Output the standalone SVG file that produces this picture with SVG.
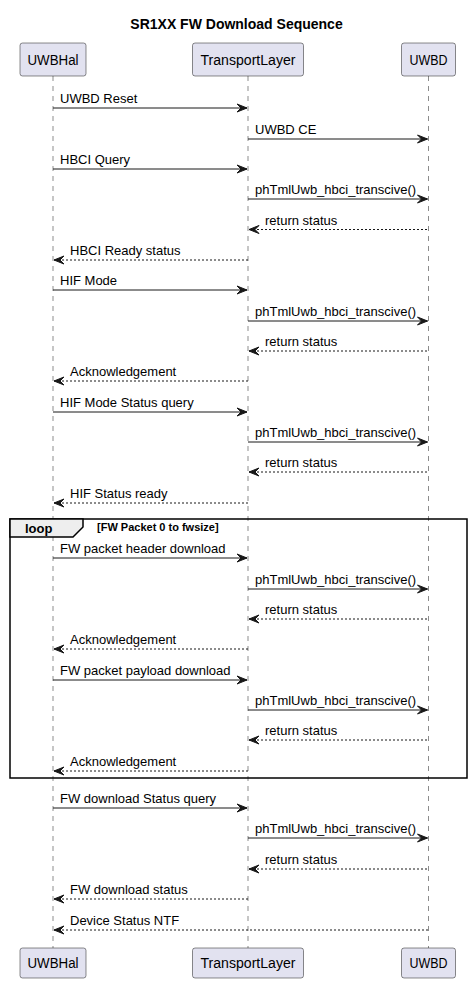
<svg xmlns="http://www.w3.org/2000/svg" width="471" height="983" viewBox="0 0 471 983">
<style>
.p{fill:#E2E2F0;stroke:#181818;stroke-width:0.5}
.pt{font-family:"Liberation Sans",Arial,sans-serif;font-size:14px;fill:#000;text-anchor:middle}
.ll{stroke:#181818;stroke-width:0.5;stroke-dasharray:5,5;fill:none}
.m{stroke:#181818;stroke-width:1;fill:none}
.d{stroke:#181818;stroke-width:1;stroke-dasharray:2,2;fill:none}
.ah{fill:#181818;stroke:#181818;stroke-width:1}
.t{font-family:"Liberation Sans",Arial,sans-serif;font-size:13px;fill:#000}
.title{font-family:"Liberation Sans",Arial,sans-serif;font-size:14px;font-weight:bold;fill:#000;text-anchor:middle}
</style>
<rect width="471" height="983" fill="#fff"/>
<text class="title" x="236.5" y="29">SR1XX FW Download Sequence</text>
<g id="lifelines">
<line class="ll" x1="53" y1="76" x2="53" y2="948"/>
<line class="ll" x1="248" y1="76" x2="248" y2="948"/>
<line class="ll" x1="428.5" y1="76" x2="428.5" y2="948"/>
</g>
<g id="loop">
<rect x="10" y="519" width="457" height="259" fill="none" stroke="#000" stroke-width="1.5"/>
<polygon points="10,519 83,519 83,527 73,537 10,537" fill="#EEEEEE" stroke="#000" stroke-width="1.5"/>
<text x="25" y="533" font-family="'Liberation Sans',Arial,sans-serif" font-size="13" font-weight="bold">loop</text>
<text x="97" y="531" font-family="'Liberation Sans',Arial,sans-serif" font-size="11" font-weight="bold">[FW Packet 0 to fwsize]</text>
</g>
<g id="UWBHal">
<rect class="p" x="20" y="43" width="66" height="33" rx="2.5"/>
<text class="pt" x="53" y="65" textLength="51" lengthAdjust="spacingAndGlyphs">UWBHal</text>
<rect class="p" x="20" y="948" width="66" height="30" rx="2.5"/>
<text class="pt" x="53" y="968" textLength="51" lengthAdjust="spacingAndGlyphs">UWBHal</text>
</g>
<g id="TransportLayer">
<rect class="p" x="192.5" y="43" width="111" height="33" rx="2.5"/>
<text class="pt" x="248" y="65" textLength="95" lengthAdjust="spacingAndGlyphs">TransportLayer</text>
<rect class="p" x="192.5" y="948" width="111" height="30" rx="2.5"/>
<text class="pt" x="248" y="968" textLength="95" lengthAdjust="spacingAndGlyphs">TransportLayer</text>
</g>
<g id="UWBD">
<rect class="p" x="401.5" y="43" width="54" height="33" rx="2.5"/>
<text class="pt" x="428.5" y="65" textLength="38" lengthAdjust="spacingAndGlyphs">UWBD</text>
<rect class="p" x="401.5" y="948" width="54" height="30" rx="2.5"/>
<text class="pt" x="428.5" y="968" textLength="38" lengthAdjust="spacingAndGlyphs">UWBD</text>
</g>
<g id="connectors">
<line class="m" x1="53" y1="108" x2="247" y2="108"/><polygon class="ah" points="237,104 247,108 237,112 241,108"/>
<text class="t" x="60" y="103">UWBD Reset</text>
<line class="m" x1="248" y1="139" x2="427.5" y2="139"/><polygon class="ah" points="417.5,135 427.5,139 417.5,143 421.5,139"/>
<text class="t" x="255" y="134">UWBD CE</text>
<line class="m" x1="53" y1="169" x2="247" y2="169"/><polygon class="ah" points="237,165 247,169 237,173 241,169"/>
<text class="t" x="60" y="164">HBCI Query</text>
<line class="m" x1="248" y1="199" x2="427.5" y2="199"/><polygon class="ah" points="417.5,195 427.5,199 417.5,203 421.5,199"/>
<text class="t" x="255" y="194">phTmlUwb_hbci_transcive()</text>
<line class="d" x1="249" y1="229.5" x2="428.5" y2="229.5"/><polygon class="ah" points="259,225.5 249,229.5 259,233.5 255,229.5"/>
<text class="t" x="265" y="224.5">return status</text>
<line class="d" x1="54" y1="260" x2="248" y2="260"/><polygon class="ah" points="64,256 54,260 64,264 60,260"/>
<text class="t" x="70" y="255">HBCI Ready status</text>
<line class="m" x1="53" y1="290" x2="247" y2="290"/><polygon class="ah" points="237,286 247,290 237,294 241,290"/>
<text class="t" x="60" y="285">HIF Mode</text>
<line class="m" x1="248" y1="321" x2="427.5" y2="321"/><polygon class="ah" points="417.5,317 427.5,321 417.5,325 421.5,321"/>
<text class="t" x="255" y="316">phTmlUwb_hbci_transcive()</text>
<line class="d" x1="249" y1="351" x2="428.5" y2="351"/><polygon class="ah" points="259,347 249,351 259,355 255,351"/>
<text class="t" x="265" y="346">return status</text>
<line class="d" x1="54" y1="381" x2="248" y2="381"/><polygon class="ah" points="64,377 54,381 64,385 60,381"/>
<text class="t" x="70" y="376">Acknowledgement</text>
<line class="m" x1="53" y1="412" x2="247" y2="412"/><polygon class="ah" points="237,408 247,412 237,416 241,412"/>
<text class="t" x="60" y="407">HIF Mode Status query</text>
<line class="m" x1="248" y1="442" x2="427.5" y2="442"/><polygon class="ah" points="417.5,438 427.5,442 417.5,446 421.5,442"/>
<text class="t" x="255" y="437">phTmlUwb_hbci_transcive()</text>
<line class="d" x1="249" y1="472" x2="428.5" y2="472"/><polygon class="ah" points="259,468 249,472 259,476 255,472"/>
<text class="t" x="265" y="467">return status</text>
<line class="d" x1="54" y1="503" x2="248" y2="503"/><polygon class="ah" points="64,499 54,503 64,507 60,503"/>
<text class="t" x="70" y="498">HIF Status ready</text>
<line class="m" x1="53" y1="558" x2="247" y2="558"/><polygon class="ah" points="237,554 247,558 237,562 241,558"/>
<text class="t" x="60" y="553">FW packet header download</text>
<line class="m" x1="248" y1="589" x2="427.5" y2="589"/><polygon class="ah" points="417.5,585 427.5,589 417.5,593 421.5,589"/>
<text class="t" x="255" y="584">phTmlUwb_hbci_transcive()</text>
<line class="d" x1="249" y1="619" x2="428.5" y2="619"/><polygon class="ah" points="259,615 249,619 259,623 255,619"/>
<text class="t" x="265" y="614">return status</text>
<line class="d" x1="54" y1="649" x2="248" y2="649"/><polygon class="ah" points="64,645 54,649 64,653 60,649"/>
<text class="t" x="70" y="644">Acknowledgement</text>
<line class="m" x1="53" y1="680" x2="247" y2="680"/><polygon class="ah" points="237,676 247,680 237,684 241,680"/>
<text class="t" x="60" y="675">FW packet payload download</text>
<line class="m" x1="248" y1="710" x2="427.5" y2="710"/><polygon class="ah" points="417.5,706 427.5,710 417.5,714 421.5,710"/>
<text class="t" x="255" y="705">phTmlUwb_hbci_transcive()</text>
<line class="d" x1="249" y1="740" x2="428.5" y2="740"/><polygon class="ah" points="259,736 249,740 259,744 255,740"/>
<text class="t" x="265" y="735">return status</text>
<line class="d" x1="54" y1="771" x2="248" y2="771"/><polygon class="ah" points="64,767 54,771 64,775 60,771"/>
<text class="t" x="70" y="766">Acknowledgement</text>
<line class="m" x1="53" y1="808" x2="247" y2="808"/><polygon class="ah" points="237,804 247,808 237,812 241,808"/>
<text class="t" x="60" y="803">FW download Status query</text>
<line class="m" x1="248" y1="838" x2="427.5" y2="838"/><polygon class="ah" points="417.5,834 427.5,838 417.5,842 421.5,838"/>
<text class="t" x="255" y="833">phTmlUwb_hbci_transcive()</text>
<line class="d" x1="249" y1="869" x2="428.5" y2="869"/><polygon class="ah" points="259,865 249,869 259,873 255,869"/>
<text class="t" x="265" y="864">return status</text>
<line class="d" x1="54" y1="899" x2="248" y2="899"/><polygon class="ah" points="64,895 54,899 64,903 60,899"/>
<text class="t" x="70" y="894">FW download status</text>
<line class="d" x1="54" y1="930" x2="428.5" y2="930"/><polygon class="ah" points="64,926 54,930 64,934 60,930"/>
<text class="t" x="70" y="925">Device Status NTF</text>
</g>
</svg>
